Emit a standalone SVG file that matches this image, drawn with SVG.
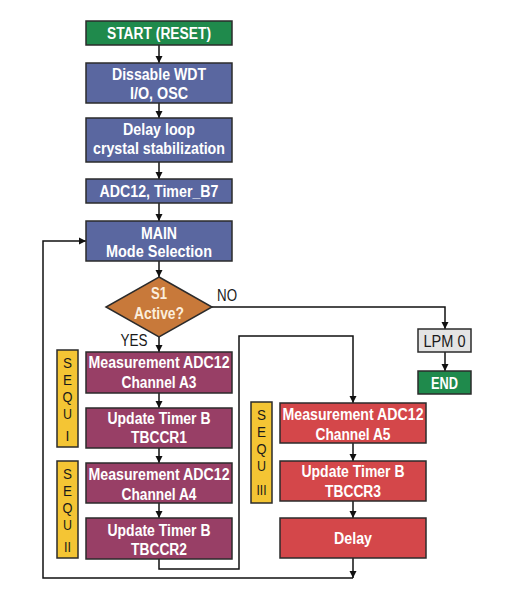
<svg xmlns="http://www.w3.org/2000/svg" width="514" height="600" viewBox="0 0 514 600">
<style>
.box{stroke:#2b2b2b;stroke-width:1.5}
.green{fill:#1f8a4c}
.blue{fill:#5a67a0}
.plum{fill:#983f66}
.red{fill:#d4474a}
.grey{fill:#e4e4e4}
.yellow{fill:#f4c534}
.orange{fill:#c8793a}
.t{font-family:"Liberation Sans",Arial,sans-serif;font-weight:bold;font-size:16px;fill:#ffffff;text-anchor:middle}
.d{font-family:"Liberation Sans",Arial,sans-serif;font-size:16px;fill:#1a1a1a;text-anchor:middle}
.s{font-family:"Liberation Sans",Arial,sans-serif;font-size:14px;fill:#1a1a1a;text-anchor:middle}
.dia{fill:#fbeedd}
.ln{fill:none;stroke:#111;stroke-width:1.5}
</style>
<defs>
<marker id="arr" viewBox="0 0 10 10" refX="10" refY="5" markerWidth="7" markerHeight="8" markerUnits="userSpaceOnUse" orient="auto">
<path d="M0,0 L10,5 L0,10 z" fill="#111"/>
</marker>
</defs>
<rect width="514" height="600" fill="#ffffff"/>

<g id="connectors">
<path class="ln" d="M159,45 V63" marker-end="url(#arr)"/>
<path class="ln" d="M159,103 V118" marker-end="url(#arr)"/>
<path class="ln" d="M159,162 V179" marker-end="url(#arr)"/>
<path class="ln" d="M159,203 V221" marker-end="url(#arr)"/>
<path class="ln" d="M159,261 V277" marker-end="url(#arr)"/>
<path class="ln" d="M159,337 V352" marker-end="url(#arr)"/>
<path class="ln" d="M159,393 V408" marker-end="url(#arr)"/>
<path class="ln" d="M159,448 V463" marker-end="url(#arr)"/>
<path class="ln" d="M159,503 V518" marker-end="url(#arr)"/>
<path class="ln" d="M159,559 V569 H239 V336 H353 V403" marker-end="url(#arr)"/>
<path class="ln" d="M212,307 H445 V329" marker-end="url(#arr)"/>
<path class="ln" d="M445,352 V371" marker-end="url(#arr)"/>
<path class="ln" d="M353,443 V461" marker-end="url(#arr)"/>
<path class="ln" d="M353,501 V518" marker-end="url(#arr)"/>
<path class="ln" d="M353,558 V578" marker-end="url(#arr)"/>
<path class="ln" d="M353,578 H43 V241 H86" marker-end="url(#arr)"/>
<text class="d" x="227" y="301" textLength="20" lengthAdjust="spacingAndGlyphs">NO</text>
<text class="d" x="134" y="346" textLength="27" lengthAdjust="spacingAndGlyphs">YES</text>
</g>

<g id="start">
<rect class="box green" x="86" y="21" width="146" height="24"/>
<text class="t" x="159" y="39" textLength="104" lengthAdjust="spacingAndGlyphs">START (RESET)</text>
</g>
<g id="disable">
<rect class="box blue" x="86" y="63" width="146" height="40"/>
<text class="t" x="159" y="80" textLength="94" lengthAdjust="spacingAndGlyphs">Dissable WDT</text>
<text class="t" x="159" y="99" textLength="58" lengthAdjust="spacingAndGlyphs">I/O, OSC</text>
</g>
<g id="delayloop">
<rect class="box blue" x="86" y="118" width="146" height="44"/>
<text class="t" x="159" y="135" textLength="72" lengthAdjust="spacingAndGlyphs">Delay loop</text>
<text class="t" x="159" y="154" textLength="132" lengthAdjust="spacingAndGlyphs">crystal stabilization</text>
</g>
<g id="adc">
<rect class="box blue" x="86" y="179" width="146" height="24"/>
<text class="t" x="159" y="197" textLength="119" lengthAdjust="spacingAndGlyphs">ADC12, Timer_B7</text>
</g>
<g id="main">
<rect class="box blue" x="86" y="221" width="146" height="40"/>
<text class="t" x="159" y="239" textLength="36" lengthAdjust="spacingAndGlyphs">MAIN</text>
<text class="t" x="159" y="257" textLength="106" lengthAdjust="spacingAndGlyphs">Mode Selection</text>
</g>
<g id="decision">
<polygon class="box orange" points="159,277 212,307 159,337 106,307"/>
<text class="t dia" x="159" y="299" textLength="16" lengthAdjust="spacingAndGlyphs">S1</text>
<text class="t dia" x="159" y="319" textLength="50" lengthAdjust="spacingAndGlyphs">Active?</text>
</g>
<g id="lpm0">
<rect class="box grey" x="418" y="329" width="53" height="23"/>
<text class="d" x="444.5" y="347" textLength="42" lengthAdjust="spacingAndGlyphs">LPM 0</text>
</g>
<g id="end">
<rect class="box green" x="418" y="371" width="53" height="23"/>
<text class="t" x="444.5" y="389" textLength="27" lengthAdjust="spacingAndGlyphs">END</text>
</g>

<g id="sequ1">
<rect class="box yellow" x="57" y="350" width="21" height="97"/>
<text class="s" x="67.5" y="368" textLength="9" lengthAdjust="spacingAndGlyphs">S</text>
<text class="s" x="67.5" y="385" textLength="9" lengthAdjust="spacingAndGlyphs">E</text>
<text class="s" x="67.5" y="402" textLength="10" lengthAdjust="spacingAndGlyphs">Q</text>
<text class="s" x="67.5" y="419" textLength="9" lengthAdjust="spacingAndGlyphs">U</text>
<text class="s" x="67.5" y="441">I</text>
</g>
<g id="sequ2">
<rect class="box yellow" x="57" y="461" width="21" height="97"/>
<text class="s" x="67.5" y="479" textLength="9" lengthAdjust="spacingAndGlyphs">S</text>
<text class="s" x="67.5" y="496" textLength="9" lengthAdjust="spacingAndGlyphs">E</text>
<text class="s" x="67.5" y="513" textLength="10" lengthAdjust="spacingAndGlyphs">Q</text>
<text class="s" x="67.5" y="530" textLength="9" lengthAdjust="spacingAndGlyphs">U</text>
<text class="s" x="67.5" y="552" textLength="7" lengthAdjust="spacingAndGlyphs">II</text>
</g>
<g id="sequ3">
<rect class="box yellow" x="251" y="402" width="21" height="101"/>
<text class="s" x="261.5" y="420" textLength="9" lengthAdjust="spacingAndGlyphs">S</text>
<text class="s" x="261.5" y="437" textLength="9" lengthAdjust="spacingAndGlyphs">E</text>
<text class="s" x="261.5" y="454" textLength="10" lengthAdjust="spacingAndGlyphs">Q</text>
<text class="s" x="261.5" y="471" textLength="9" lengthAdjust="spacingAndGlyphs">U</text>
<text class="s" x="261.5" y="495" textLength="10" lengthAdjust="spacingAndGlyphs">III</text>
</g>

<g id="measA3">
<rect class="box plum" x="86" y="352" width="146" height="41"/>
<text class="t" x="159" y="368" textLength="141" lengthAdjust="spacingAndGlyphs">Measurement ADC12</text>
<text class="t" x="159" y="388" textLength="75" lengthAdjust="spacingAndGlyphs">Channel A3</text>
</g>
<g id="tbccr1">
<rect class="box plum" x="86" y="408" width="146" height="40"/>
<text class="t" x="159" y="424" textLength="103" lengthAdjust="spacingAndGlyphs">Update Timer B</text>
<text class="t" x="159" y="443" textLength="56" lengthAdjust="spacingAndGlyphs">TBCCR1</text>
</g>
<g id="measA4">
<rect class="box plum" x="86" y="463" width="146" height="40"/>
<text class="t" x="159" y="480" textLength="141" lengthAdjust="spacingAndGlyphs">Measurement ADC12</text>
<text class="t" x="159" y="500" textLength="75" lengthAdjust="spacingAndGlyphs">Channel A4</text>
</g>
<g id="tbccr2">
<rect class="box plum" x="86" y="518" width="146" height="41"/>
<text class="t" x="159" y="536" textLength="103" lengthAdjust="spacingAndGlyphs">Update Timer B</text>
<text class="t" x="159" y="555" textLength="56" lengthAdjust="spacingAndGlyphs">TBCCR2</text>
</g>
<g id="measA5">
<rect class="box red" x="280" y="403" width="146" height="40"/>
<text class="t" x="353" y="420" textLength="141" lengthAdjust="spacingAndGlyphs">Measurement ADC12</text>
<text class="t" x="353" y="440" textLength="75" lengthAdjust="spacingAndGlyphs">Channel A5</text>
</g>
<g id="tbccr3">
<rect class="box red" x="280" y="461" width="146" height="40"/>
<text class="t" x="353" y="477" textLength="103" lengthAdjust="spacingAndGlyphs">Update Timer B</text>
<text class="t" x="353" y="497" textLength="56" lengthAdjust="spacingAndGlyphs">TBCCR3</text>
</g>
<g id="delay">
<rect class="box red" x="280" y="518" width="146" height="40"/>
<text class="t" x="353" y="544" textLength="38" lengthAdjust="spacingAndGlyphs">Delay</text>
</g>
</svg>
